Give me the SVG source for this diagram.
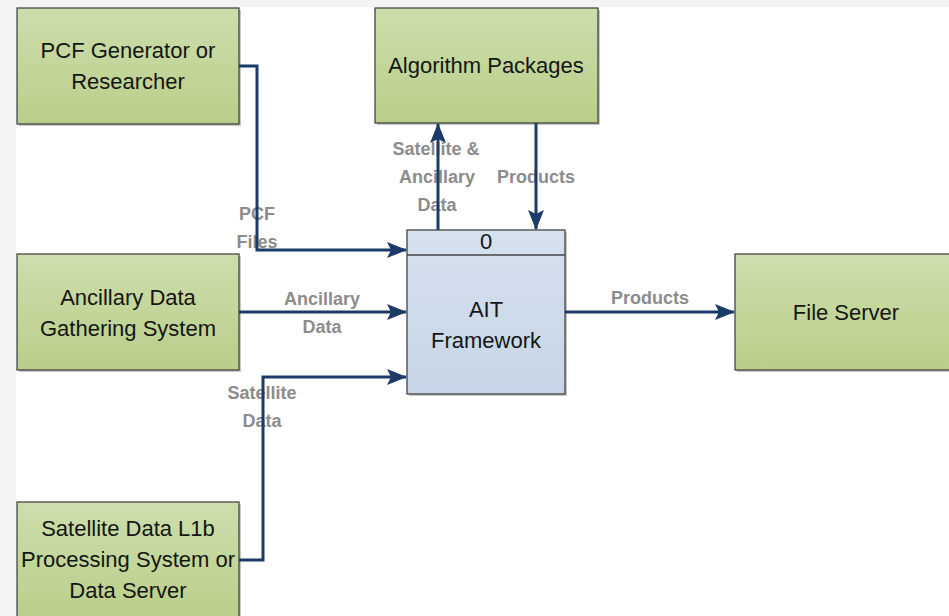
<svg xmlns="http://www.w3.org/2000/svg" width="949" height="616" viewBox="0 0 949 616">
<defs>
<linearGradient id="gGreen" x1="0" y1="0" x2="0" y2="1">
<stop offset="0" stop-color="#cddeac"/>
<stop offset="1" stop-color="#b9ce89"/>
</linearGradient>
<linearGradient id="gBlue" x1="0" y1="0" x2="0" y2="1">
<stop offset="0" stop-color="#d6e1ee"/>
<stop offset="1" stop-color="#c6d5e7"/>
</linearGradient>
<marker id="arr" viewBox="0 0 20 16" refX="19" refY="8" markerWidth="20" markerHeight="16" markerUnits="userSpaceOnUse" orient="auto">
<path d="M0,0 L20,8 L0,16 L4,8 Z" fill="#1b3a68"/>
</marker>
<style>
.box{stroke:#444;stroke-width:1.3}
.shadow{fill:#000;opacity:0.22}
.t{font-family:"Liberation Sans",Arial,sans-serif;font-size:22px;fill:#151515;text-anchor:middle}
.lbl{font-family:"Liberation Sans",Arial,sans-serif;font-size:18px;font-weight:bold;fill:#8c8c8c;text-anchor:middle}
.c{fill:none;stroke:#1b3a68;stroke-width:3}
</style>
</defs>
<rect x="0" y="0" width="949" height="616" fill="#f3f3f3"/>
<rect x="16" y="7" width="933" height="609" fill="#ffffff"/>

<g id="pcf">
<rect class="shadow" x="19" y="10" width="222" height="116"/>
<rect class="box" x="17" y="8" width="222" height="116" fill="url(#gGreen)"/>
<text class="t" x="128" y="58">PCF Generator or</text>
<text class="t" x="128" y="89">Researcher</text>
</g>

<g id="ancillary">
<rect class="shadow" x="19" y="256" width="222" height="116"/>
<rect class="box" x="17" y="254" width="222" height="116" fill="url(#gGreen)"/>
<text class="t" x="128" y="305">Ancillary Data</text>
<text class="t" x="128" y="336">Gathering System</text>
</g>

<g id="satellite">
<rect class="shadow" x="19" y="504" width="222" height="116"/>
<rect class="box" x="17" y="502" width="222" height="120" fill="url(#gGreen)"/>
<text class="t" x="128" y="536">Satellite Data L1b</text>
<text class="t" x="128" y="567">Processing System or</text>
<text class="t" x="128" y="598">Data Server</text>
</g>

<g id="algorithm">
<rect class="shadow" x="377" y="10" width="223" height="115"/>
<rect class="box" x="375" y="8" width="223" height="115" fill="url(#gGreen)"/>
<text class="t" x="486" y="73">Algorithm Packages</text>
</g>

<g id="ait">
<rect class="shadow" x="409" y="232" width="158" height="164"/>
<rect class="box" x="407" y="230" width="158" height="164" fill="url(#gBlue)"/>
<line x1="407" y1="255" x2="565" y2="255" stroke="#444" stroke-width="1.3"/>
<text class="t" x="486" y="249">0</text>
<text class="t" x="486" y="317">AIT</text>
<text class="t" x="486" y="348">Framework</text>
</g>

<g id="fileserver">
<rect class="shadow" x="737" y="256" width="220" height="116"/>
<rect class="box" x="735" y="254" width="220" height="116" fill="url(#gGreen)"/>
<text class="t" x="846" y="320">File Server</text>
</g>

<g id="labels">
<text class="lbl" x="257" y="220">PCF</text>
<text class="lbl" x="257" y="248">Files</text>
<text class="lbl" x="322" y="305">Ancillary</text>
<text class="lbl" x="322" y="333">Data</text>
<text class="lbl" x="262" y="399">Satellite</text>
<text class="lbl" x="262" y="427">Data</text>
<text class="lbl" x="436" y="155">Satellite &amp;</text>
<text class="lbl" x="437" y="183">Ancillary</text>
<text class="lbl" x="437" y="211">Data</text>
<text class="lbl" x="536" y="183">Products</text>
<text class="lbl" x="650" y="304">Products</text>
</g>

<g id="connectors">
<polyline class="c" points="239,66 257,66 257,250 406,250" marker-end="url(#arr)"/>
<line class="c" x1="239" y1="312" x2="406" y2="312" marker-end="url(#arr)"/>
<polyline class="c" points="239,560 263,560 263,377 406,377" marker-end="url(#arr)"/>
<line class="c" x1="438" y1="230" x2="438" y2="124" marker-end="url(#arr)"/>
<line class="c" x1="536" y1="123" x2="536" y2="229" marker-end="url(#arr)"/>
<line class="c" x1="565" y1="312" x2="734" y2="312" marker-end="url(#arr)"/>
</g>
</svg>
